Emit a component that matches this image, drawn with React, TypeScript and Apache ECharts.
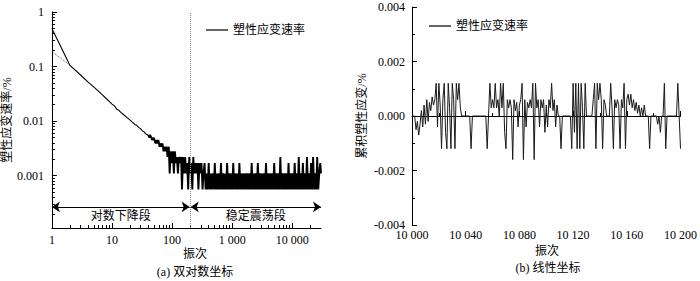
import React, { useEffect, useRef } from "react";
import * as echarts from "echarts";

const FONT = "'Liberation Serif', 'Noto Sans CJK SC', serif";

// ---------- (a) log-log chart ----------
const seriesName = "塑性应变速率";
// [cycle, plastic strain rate %] — log-linear decline stage
const declineData: [number, number][] = [
  [1, 0.5], [2, 0.105], [3, 0.07], [4, 0.052], [5, 0.042], [6, 0.035], [7, 0.03], [8, 0.026], [9, 0.023],
  [10, 0.0205], [11, 0.019], [12, 0.0165], [13, 0.0158], [14, 0.0145], [16, 0.0128], [18, 0.0115], [20, 0.0104],
  [22, 0.0095], [24, 0.0087], [26, 0.0083], [28, 0.0076], [30, 0.0072], [32, 0.0066], [34, 0.0064], [36, 0.0059],
  [38, 0.0057], [40, 0.0056],
];
// [cycle, plastic strain rate %] — noisy tail and stable oscillation stage
const oscillationData: [number, number][] = [
  [40, 0.0056], [42, 0.005], [43, 0.0056], [45, 0.005], [47, 0.0045], [49, 0.005], [51, 0.0045], [53, 0.0039],
  [55, 0.0045], [57, 0.0039], [59, 0.0045], [62, 0.0034], [64, 0.0039], [67, 0.0034], [69, 0.0039], [72, 0.0028],
  [75, 0.0034], [78, 0.0028], [81, 0.0034], [84, 0.0022], [88, 0.0034], [91, 0.0011], [95, 0.0028], [99, 0.0017],
  [103, 0.0028], [107, 0.0011], [111, 0.0028], [116, 0.0017], [120, 0.0022], [125, 0.0011], [130, 0.0022],
  [135, 0.0017], [141, 0.0022], [146, 0.00056], [152, 0.0022], [158, 0.0011], [165, 0.0022], [171, 0.0011],
  [178, 0.0017], [185, 0.00056], [193, 0.0022], [200, 0.0011], [208, 0.0017], [217, 0.00056], [225, 0.0022],
  [234, 0.0011], [244, 0.0017], [253, 0.0011], [264, 0.0017], [274, 0.00056], [285, 0.0017], [297, 0.0011],
  [308, 0.0017], [321, 0.00056], [333, 0.0011], [347, 0.0017], [361, 0.00056], [375, 0.0011], [390, 0.00056],
  [406, 0.0017], [422, 0.00056], [439, 0.0011], [456, 0.00056], [475, 0.0011], [494, 0.00056], [513, 0.0017],
  [534, 0.00056], [555, 0.0011], [577, 0.00056], [601, 0.0011], [625, 0.00056], [650, 0.0017], [676, 0.00056],
  [703, 0.0011], [731, 0.00056], [760, 0.0011], [790, 0.00056], [822, 0.0017], [855, 0.00056], [889, 0.0011],
  [925, 0.00056], [962, 0.0011], [1000, 0.00056], [1040, 0.0017], [1082, 0.00056], [1125, 0.0011], [1170, 0.00056],
  [1217, 0.0011], [1265, 0.00056], [1316, 0.0017], [1369, 0.00056], [1423, 0.0011], [1480, 0.00056], [1540, 0.0011],
  [1601, 0.00056], [1665, 0.0011], [1732, 0.00056], [1801, 0.0011], [1873, 0.00056], [1948, 0.0011], [2026, 0.00056],
  [2107, 0.0017], [2192, 0.00056], [2279, 0.0011], [2370, 0.00056], [2465, 0.0011], [2564, 0.00056], [2667, 0.0017],
  [2773, 0.00056], [2884, 0.0011], [3000, 0.00056], [3120, 0.0011], [3244, 0.00056], [3374, 0.0011], [3509, 0.00056],
  [3650, 0.0017], [3796, 0.00056], [3947, 0.0011], [4105, 0.00056], [4270, 0.0011], [4440, 0.00056], [4618, 0.0011],
  [4803, 0.00056], [4995, 0.0017], [5195, 0.00056], [5402, 0.0011], [5618, 0.00056], [5843, 0.0011], [6077, 0.00056],
  [6320, 0.0022], [6573, 0.00056], [6836, 0.0011], [7109, 0.00056], [7394, 0.0011], [7689, 0.00056], [7997, 0.0011],
  [8317, 0.00056], [8649, 0.0017], [8995, 0.00056], [9355, 0.0011], [9729, 0.00056], [10118, 0.0011], [10523, 0.00056],
  [10944, 0.0017], [11381, 0.00056], [11837, 0.0011], [12310, 0.00056], [12803, 0.0022], [13315, 0.00056],
  [13847, 0.0011], [14401, 0.00056], [14977, 0.0017], [15576, 0.00056], [16199, 0.0011], [16847, 0.00056],
  [17521, 0.0022], [18222, 0.00056], [18951, 0.0011], [19709, 0.00056], [20497, 0.0017], [21317, 0.00056],
  [22170, 0.0022], [23057, 0.00056], [23979, 0.0011], [24938, 0.00056], [25936, 0.0022], [26973, 0.00056],
  [28052, 0.0011], [29174, 0.0017], [30000, 0.0011],
];
// dotted extrapolation of the log-linear decline
const fitData: [number, number][] = [[1, 0.19], [2, 0.105]];
const boundaryCycle = 200;
const arrowLevel = 0.000268;
const stageNames = ["对数下降段", "稳定震荡段"];

const xTickValuesA = [1, 10, 100, 1000, 10000];
const xTickLabelsA = ["1", "10", "100", "1 000", "10 000"];
const xMinorA = [2, 3, 4, 5, 6, 7, 8, 9, 20, 30, 40, 50, 60, 70, 80, 90, 200, 300, 400, 500, 600, 700, 800, 900,
  2000, 3000, 4000, 5000, 6000, 7000, 8000, 9000, 20000];
const yTickValuesA = [0.001, 0.01, 0.1, 1];
const yTickLabelsA = ["0.001", "0.01", "0.1", "1"];
const yMinorA = [0.0002, 0.0003, 0.0004, 0.0005, 0.0006, 0.0007, 0.0008, 0.0009,
  0.002, 0.003, 0.004, 0.005, 0.006, 0.007, 0.008, 0.009,
  0.02, 0.03, 0.04, 0.05, 0.06, 0.07, 0.08, 0.09,
  0.2, 0.3, 0.4, 0.5, 0.6, 0.7, 0.8, 0.9];

// ---------- (b) linear chart ----------
const startCycleB = 10000;
const strainValuesB = [
  0, 0, 0, -0.0005, -0.0002, -0.0007, -0.0003, 0.0002, -0.0004, 0.0004,
  -0.0003, 0.0006, -0.0002, 0.0005, 0.0002, 0.0007, 0.0004, 0.0006, 0.0012, -0.0004,
  0.0012, 0.0004, -0.0012, 0.0006, 0.0012, -0.0006, -0.0012, 0.0012, 0.0003, -0.0012,
  0.0012, 0.0006, -0.0012, 0.0012, 0.0006, 0.0012, 0.0003, 0, 0, 0,
  0, 0, 0, 0, -0.0012, 0, 0, 0, 0, 0,
  0, 0, 0, 0, 0, 0, -0.0012, 0, 0.0012, 0.0003,
  0.0006, 0.0003, 0.0012, 0.0003, 0.0006, 0, 0.0012, 0.0003, 0.0012, -0.0006,
  -0.0012, 0.0006, 0.0003, 0.0006, 0.0003, -0.0016, 0.0006, 0.0002, 0.0005, -0.0004,
  0.0004, 0.0006, 0.0012, -0.0016, 0.0006, -0.0004, 0.0005, 0.0003, 0.0006, 0.0003,
  0.0012, -0.0016, 0.0012, 0.0003, 0.0006, -0.0004, 0.0006, 0.0003, 0.0006, -0.0006,
  0.0004, -0.0004, 0.0006, 0.0003, 0.0012, 0.0002, 0.0006, -0.0004, 0.0004, 0,
  0, -0.0012, 0, 0, 0, 0, 0, 0, 0, -0.0012,
  0.0012, -0.0006, 0.0012, -0.0012, 0.0012, -0.0012, 0.0012, 0.0003, -0.0012, 0.0012,
  0, 0, 0, 0, 0, 0.0006, 0.0012, -0.0012, 0.0012, 0.0006,
  0.0012, 0.0006, -0.0012, 0.0006, 0.0004, 0, 0, 0, 0.0012, 0.0003,
  -0.0012, 0.0006, 0.0003, 0.0006, 0.0004, -0.0012, 0.0006, 0.0003, 0.0012, -0.0012,
  0.0006, 0.0008, 0.0004, 0.0008, 0.0003, 0.0006, 0.0002, 0.0005, 0.0001, 0.0004,
  0, 0.0003, 0, 0.0004, 0, 0, 0, -0.0012, 0, 0,
  0, 0, 0, -0.0003, 0, -0.0006, 0, 0, 0.0012, -0.0012,
  0, 0, 0, 0, 0, 0, 0, 0, 0.0012, 0,
  -0.0012,
];

const texts = [
  { text: "振次", x: 195, y: 254 },
  { text: "振次", x: 547, y: 251 },
  { text: "(a) 双对数坐标", x: 195, y: 272 },
  { text: "(b) 线性坐标", x: 548, y: 268 },
];

const logLabel = (ticks: number[], labels: string[]) => (v: number) => {
  const i = ticks.findIndex((t) => Math.abs(Math.log10(t) - Math.log10(v)) < 1e-6);
  return i >= 0 ? labels[i] : "";
};

const labelStyle = { color: "#000", fontFamily: FONT, fontSize: 12 };
const axisLineStyle = { show: true, lineStyle: { color: "#000", width: 1 } };
const legendBase = {
  data: [seriesName], itemWidth: 22, itemHeight: 1.2, icon: "rect", padding: 0,
  itemStyle: { color: "#000" }, textStyle: { ...labelStyle }, selectedMode: false,
};

export default function App() {
  const ref = useRef<HTMLDivElement>(null);
  useEffect(() => {
    if (!ref.current) return;
    const chart = echarts.init(ref.current, undefined, { renderer: "svg" });
    const dataB = strainValuesB.map((v, i) => [startCycleB + i, v]);
    chart.setOption({
      animation: false,
      backgroundColor: "#fff",
      textStyle: { fontFamily: FONT },
      grid: [
        { left: 51, top: 12, width: 270, height: 216 },
        { left: 412, top: 7, width: 271, height: 218 },
      ],
      legend: [
        { ...legendBase, left: 206, top: 24 },
        { ...legendBase, left: 429, top: 20 },
      ],
      xAxis: [
        {
          type: "log", gridIndex: 0, min: 1, max: 30000, logBase: 10, position: "bottom",
          axisLine: axisLineStyle,
          axisTick: { show: true, inside: true, length: 5, customValues: xTickValuesA, lineStyle: { color: "#000" } },
          axisLabel: { ...labelStyle, margin: 6, customValues: xTickValuesA, formatter: logLabel(xTickValuesA, xTickLabelsA) },
          splitLine: { show: false },
        },
        {
          type: "log", gridIndex: 0, min: 1, max: 30000, logBase: 10, position: "bottom",
          axisLine: { show: false },
          axisTick: { show: true, inside: true, length: 3, customValues: xMinorA, lineStyle: { color: "#000" } },
          axisLabel: { show: false },
          splitLine: { show: false },
        },
        {
          type: "value", gridIndex: 1, min: 10000, max: 10200, interval: 40,
          axisLine: axisLineStyle,
          axisTick: { show: true, inside: true, length: 5, lineStyle: { color: "#000" } },
          minorTick: { show: true, splitNumber: 2, length: 3, lineStyle: { color: "#000" } },
          axisLabel: {
            ...labelStyle, margin: 4,
            formatter: (v: number) => `${Math.floor(v / 1000)} ${String(v % 1000).padStart(3, "0")}`,
          },
          splitLine: { show: false },
        },
      ],
      yAxis: [
        {
          type: "log", gridIndex: 0, min: 0.00011, max: 1, logBase: 10, position: "left",
          name: "塑性应变速率/%", nameLocation: "middle", nameGap: 29, nameRotate: 90,
          nameTextStyle: { ...labelStyle },
          axisLine: axisLineStyle,
          axisTick: { show: true, inside: true, length: 5, customValues: yTickValuesA, lineStyle: { color: "#000" } },
          axisLabel: { ...labelStyle, margin: 8, customValues: yTickValuesA, formatter: logLabel(yTickValuesA, yTickLabelsA) },
          splitLine: { show: false },
        },
        {
          type: "log", gridIndex: 0, min: 0.00011, max: 1, logBase: 10, position: "left",
          axisLine: { show: false },
          axisTick: { show: true, inside: true, length: 3, customValues: yMinorA, lineStyle: { color: "#000" } },
          axisLabel: { show: false },
          splitLine: { show: false },
        },
        {
          type: "value", gridIndex: 1, min: -0.004, max: 0.004, interval: 0.002,
          name: "累积塑性应变/%", nameLocation: "middle", nameGap: 44, nameRotate: 90,
          nameTextStyle: { ...labelStyle },
          axisLine: axisLineStyle,
          axisTick: { show: true, inside: true, length: 5, lineStyle: { color: "#000" } },
          minorTick: { show: true, splitNumber: 2, length: 3, lineStyle: { color: "#000" } },
          axisLabel: { ...labelStyle, margin: 7, formatter: (v: number) => v.toFixed(3) },
          splitLine: { show: false },
        },
      ],
      series: [
        {
          type: "line", name: seriesName, xAxisIndex: 0, yAxisIndex: 0,
          data: declineData, symbol: "none",
          lineStyle: { color: "#000", width: 1.1 }, itemStyle: { color: "#000" },
          markLine: {
            silent: true, symbol: "none",
            lineStyle: { type: "dotted", color: "#888", width: 1 },
            label: { show: false },
            data: [{ xAxis: boundaryCycle }],
          },
        },
        {
          type: "line", name: seriesName, xAxisIndex: 0, yAxisIndex: 0,
          data: oscillationData, symbol: "none",
          lineStyle: { color: "#000", width: 1.9 }, itemStyle: { color: "#000" },
        },
        {
          type: "line", name: "fit", xAxisIndex: 0, yAxisIndex: 0,
          data: fitData, symbol: "none",
          lineStyle: { color: "#555", width: 1, type: "dotted" },
          markLine: {
            silent: true, symbol: ["arrow", "arrow"], symbolSize: 8,
            lineStyle: { type: "solid", color: "#000", width: 1 },
            label: { show: true, position: "insideMiddleBottom", distance: 3, formatter: "{b}", ...labelStyle },
            data: [
              [{ name: stageNames[0], coord: [1, arrowLevel] }, { coord: [196, arrowLevel] }],
              [{ name: stageNames[1], coord: [204, arrowLevel] }, { coord: [30000, arrowLevel] }],
            ],
          },
        },
        {
          type: "line", name: seriesName, xAxisIndex: 2, yAxisIndex: 2,
          data: dataB, symbol: "none",
          lineStyle: { color: "#1a1a1a", width: 1 }, itemStyle: { color: "#000" },
        },
      ],
      graphic: texts.map((t) => ({
        type: "text", x: t.x, y: t.y,
        style: { text: t.text, align: "center", verticalAlign: "middle", fill: "#000", font: `12px ${FONT}` },
      })),
    });
    return () => chart.dispose();
  }, []);
  return <div ref={ref} style={{ position: "fixed", left: 0, top: 0, width: 700, height: 281, background: "#fff" }} />;
}
